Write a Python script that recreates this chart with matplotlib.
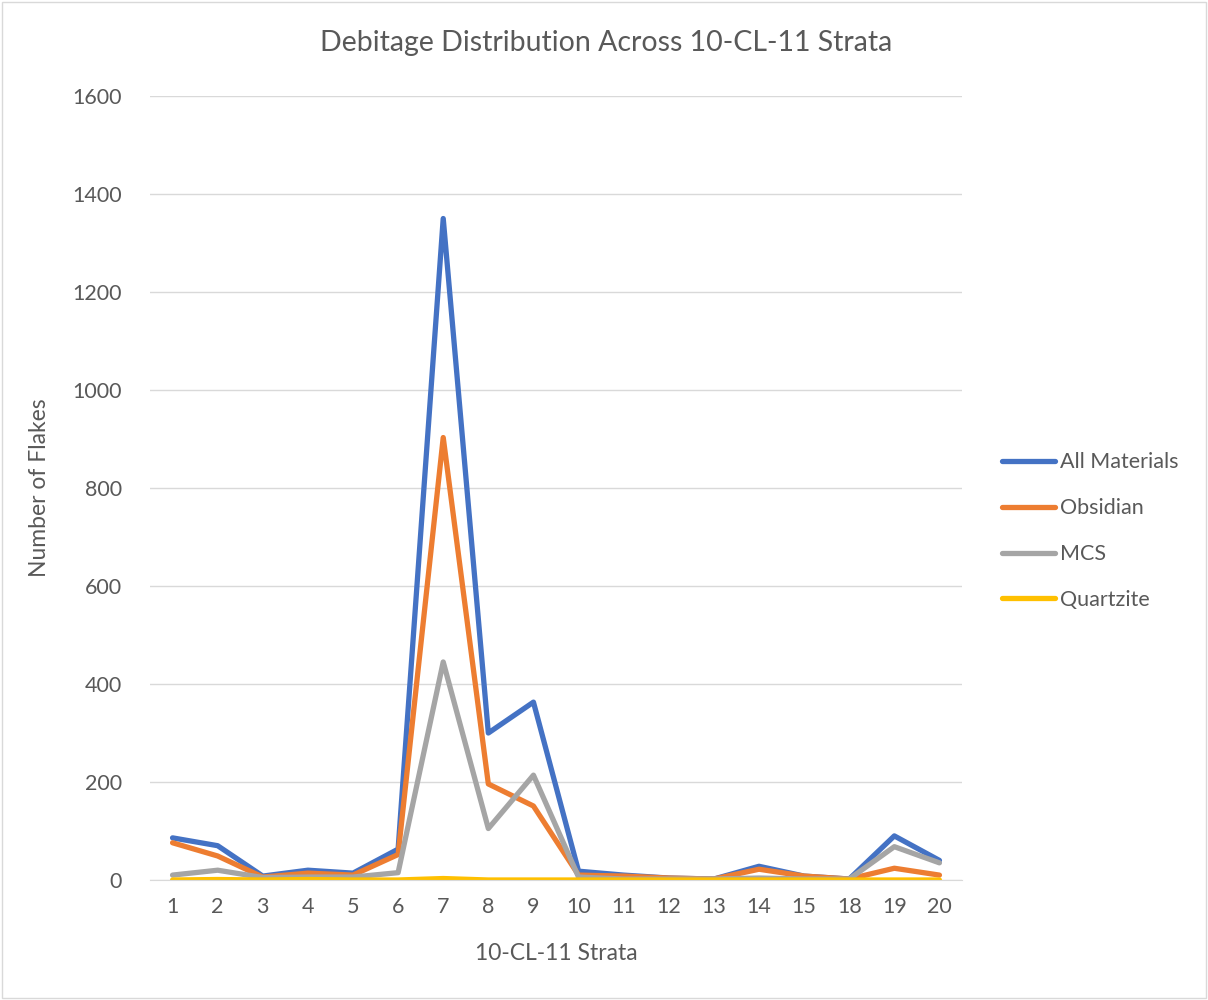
import matplotlib
matplotlib.use('Agg')
import matplotlib.pyplot as plt
import numpy as np

# data
strata = ['1', '2', '3', '4', '5', '6', '7', '8', '9', '10', '11', '12', '13', '14', '15', '18', '19', '20']
all_materials = [86, 70, 8, 20, 14, 63, 1350, 300, 363, 18, 10, 4, 2, 28, 8, 2, 90, 40]
obsidian = [76, 49, 6, 14, 10, 52, 903, 196, 151, 10, 8, 4, 2, 22, 8, 2, 24, 10]
mcs = [10, 20, 5, 6, 6, 15, 445, 105, 214, 6, 2, 2, 2, 4, 2, 2, 68, 35]
quartzite = [0, 1, 0, 1, 0, 0, 3, 0, 0, 0, 0, 0, 0, 0, 0, 0, 0, 0]

series = [('All Materials', all_materials, '#4472C4'),
          ('Obsidian', obsidian, '#ED7D31'),
          ('MCS', mcs, '#A5A5A5'),
          ('Quartzite', quartzite, '#FFC000')]

text_col = '#595959'
plt.rcParams['font.family'] = ['Lato', 'DejaVu Sans']

fig = plt.figure(figsize=(12.08, 10), dpi=100)
ax = fig.add_axes([150 / 1208, 120 / 1000, 812 / 1208, 784 / 1000])

x = np.arange(len(strata))
for name, vals, col in series:
    ax.plot(x, vals, color=col, lw=3.8, label=name, solid_joinstyle='round', solid_capstyle='round')

ax.set_xlim(-0.5, len(strata) - 0.5)
ax.set_ylim(0, 1600)
ax.set_yticks(np.arange(0, 1601, 200))
ax.set_xticks(x)
ax.set_xticklabels(strata)
ax.yaxis.grid(True, color='#D9D9D9', lw=1)
ax.set_axisbelow(True)
for s in ['top', 'right', 'left']:
    ax.spines[s].set_visible(False)
ax.spines['bottom'].set_color('#D9D9D9')
ax.tick_params(axis='y', length=0, labelsize=15.5, colors=text_col, pad=20)
ax.tick_params(axis='x', length=0, labelsize=15.5, colors=text_col, pad=12)

ax.set_xlabel('10-CL-11 Strata', fontsize=16.5, color=text_col, labelpad=19)
ax.set_ylabel('Number of Flakes', fontsize=16.5, color=text_col, labelpad=16)
fig.text(606 / 1208, 1 - 43 / 1000, 'Debitage Distribution Across 10-CL-11 Strata',
         ha='center', va='center', fontsize=20.5, color=text_col)

leg = ax.legend(loc='center left', bbox_to_anchor=(1.025, 0.445), frameon=False,
                fontsize=15.5, labelcolor=text_col, handlelength=2.5, labelspacing=1.2,
                handletextpad=0.2)

# thin border around the chart area
fig.patches.append(plt.Rectangle((0.002, 0.002), 0.996, 0.996, transform=fig.transFigure,
                                 fill=False, edgecolor='#D9D9D9', lw=1))

fig.savefig('out.png', dpi=100, facecolor='white')
